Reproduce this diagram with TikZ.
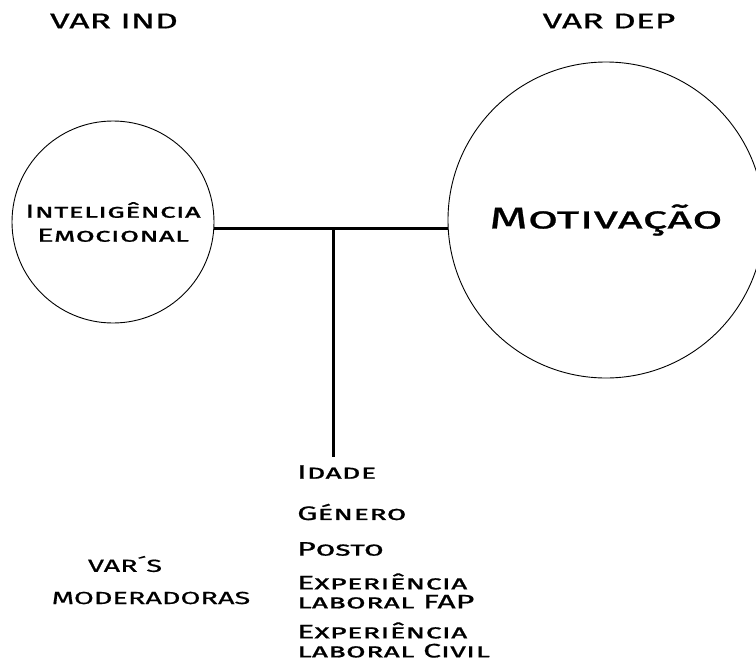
\documentclass[tikz,border=0pt]{standalone}
\usepackage{fontspec}
\setmainfont{Fira Sans}[FakeStretch=1.65, FakeBold=0.8]
\usepackage{tikz}
\usetikzlibrary{positioning}

\begin{document}
\begin{tikzpicture}[x=1pt, y=-1pt,
    varcircle/.style={circle, draw, line width=0.9pt, align=center, inner sep=0pt},
    vartitle/.style={font=\fontsize{21.5}{23}\selectfont},
    moderator/.style={anchor=west, align=left, inner sep=0pt, font=\fontsize{19.5}{19}\selectfont},
    link/.style={line width=3pt}]
    % Page
    \useasboundingbox (0,0) rectangle (756,662);

    % Titles
    \node[vartitle] (varind) at (114,21) {VAR IND};
    \node[vartitle] (vardep) at (609,21) {VAR DEP};

    % Variables
    \node[varcircle, minimum size=202pt, font=\fontsize{19}{24}\selectfont] (ie) at (113,222)
        {\textsc{Inteligência}\\\textsc{Emocional}};
    \node[varcircle, minimum size=316pt, font=\fontsize{30}{32}\selectfont] (mot) at (606,220)
        {\textsc{Motivação}};

    % Links
    \draw[link] (ie.east |- 0,228) coordinate (lstart) -- (mot.west |- 0,228) coordinate (lend);
    \coordinate (junc) at (333,228);
    \coordinate (drop) at (333,457);
    \draw[link] (junc) -- (drop);

    % Moderators
    \node[moderator] (idade) at (297,472) {\textsc{Idade}};
    \node[moderator] (genero) at (297,512) {\textsc{Género}};
    \node[moderator] (posto) at (297,549) {\textsc{Posto}};
    \node[moderator] (expfap) at (297,591) {\textsc{Experiência}\\\textsc{laboral FAP}};
    \node[moderator] (expcivil) at (297,640) {\textsc{Experiência}\\\textsc{laboral Civil}};

    \node[font=\fontsize{17.5}{20}\selectfont] (vars) at (125,564) {VAR´S};
    \node[font=\fontsize{17.5}{20}\selectfont] (modera) at (151,598) {MODERADORAS};
\end{tikzpicture}
\end{document}
